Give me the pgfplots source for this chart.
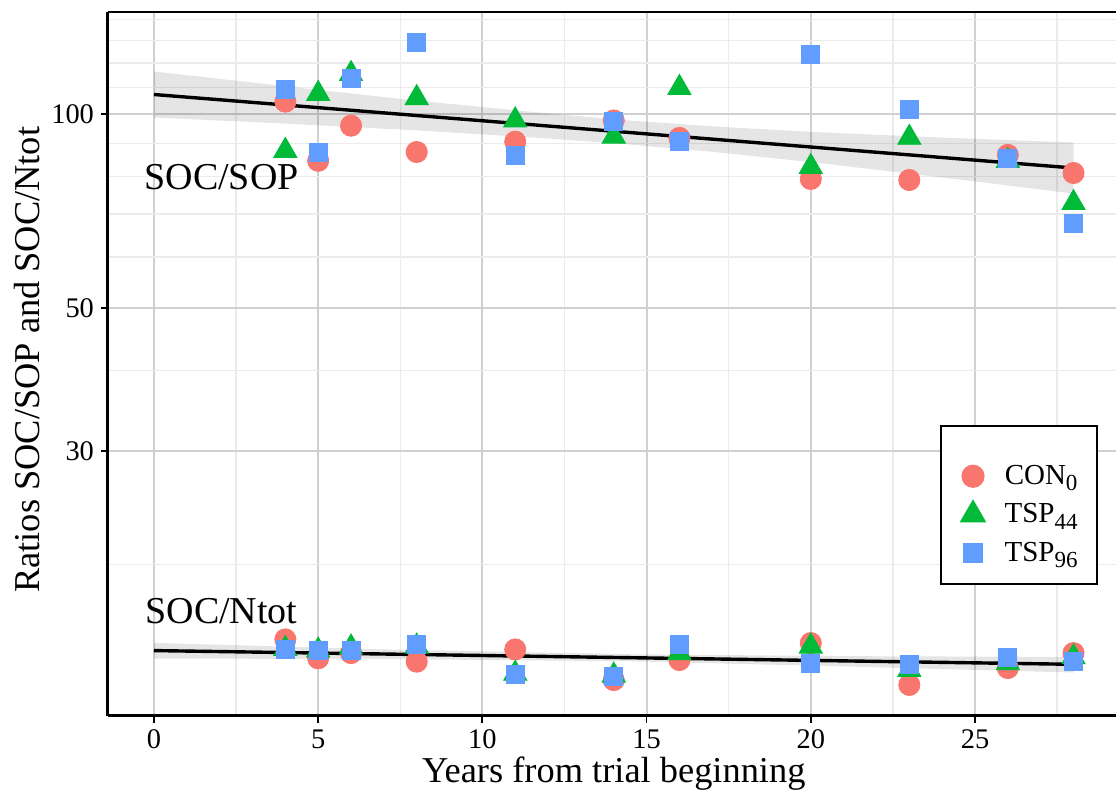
\documentclass[border=0pt]{standalone}
\usepackage{fontspec}
\setmainfont{Liberation Serif}
\usepackage{pgfplots}
\pgfplotsset{compat=1.18}
\definecolor{conc}{HTML}{F8766D}
\definecolor{tspa}{HTML}{00BA38}
\definecolor{tspb}{HTML}{619CFF}
\definecolor{majgrid}{HTML}{D0D0D0}
\definecolor{mingrid}{HTML}{EBEBEB}
\newcommand{\sub}[1]{\raisebox{-0.22em}{\fontsize{11.5}{12}\selectfont #1}}
\begin{document}
\begin{tikzpicture}
\begin{axis}[
  scale only axis, width=505.75pt, height=352pt,
  xmin=-1.4, xmax=29.4, ymode=log, ymin=11.645, ymax=143.95,
  axis x line*=bottom, axis y line*=left,
  xtick={0,5,...,25}, minor xtick={2.5,7.5,...,27.5},
  ytick={30,50,100}, yticklabels={30,50,100},
  minor ytick={20,40,60,70,80,90,110,120,130,140},
  grid=both,
  major grid style={draw=majgrid, line width=1pt},
  minor grid style={draw=mingrid, line width=0.65pt},
  axis line style={-, black, line width=1.5pt},
  tick pos=left, tick align=outside, major tick length=3.5pt, minor tick length=0pt,
  tick style={black, line width=0.9pt},
  ticklabel style={font=\fontsize{14.2}{17}\selectfont, text=black},
  /pgf/number format/assume math mode=true,
  xlabel={Years from trial beginning}, ylabel={Ratios SOC/SOP and SOC/Ntot},
  label style={font=\fontsize{18.2}{22}\selectfont},
  xlabel style={at={(axis description cs:0.5,-0.0824)}, anchor=center},
  ylabel style={at={(axis description cs:-0.0801,0.506)}, anchor=center},
  legend style={at={(rel axis cs:0.8225,0.4134)}, anchor=north west, draw=black, line width=1pt, fill=white,
    font=\fontsize{14.5}{16}\selectfont, inner xsep=7.5pt, inner ysep=8pt, row sep=4.1pt, column sep=8pt},
]
% confidence bands
\addplot[draw=none, fill=black, fill opacity=0.1, forget plot] coordinates {
 (0,116.4)(4,110.4)(8,104.9)(12,100.18)(14.5,97.67)(17,95.67)(20,93.81)(24,91.92)(28,90.32)
 (28,75.27)(24,79.74)(20,84.21)(17,87.38)(14.5,89.65)(12,91.62)(8,94.31)(4,96.63)(0,98.76)} -- cycle;
\addplot[draw=none, fill=black, fill opacity=0.1, forget plot] coordinates {
 (0,15.12)(7,14.77)(14.5,14.52)(21,14.42)(28,14.38)
 (28,13.60)(21,13.90)(14.5,14.16)(7,14.27)(0,14.30)} -- cycle;
% regression lines
\addplot[black, line width=1.7pt, forget plot] coordinates {(0,107.2)(28,82.45)};
\addplot[black, line width=1.7pt, forget plot] coordinates {(0,14.71)(28,14.006)};
% legend spacer row
\addlegendimage{empty legend}
\addlegendentry{}
% points
\addplot[only marks, mark=*, mark size=5.3pt, color=conc] coordinates {
 (4,104.5)(5,84.6)(6,95.9)(8,87.3)(11,90.6)(14,97.7)(16,91.8)(20,79.3)(23,79.0)(26,86.4)(28,81.0)
 (4,15.31)(5,14.31)(6,14.58)(8,14.14)(11,14.77)(14,13.24)(16,14.22)(20,15.11)(23,13.01)(26,13.82)(28,14.58)};
\addlegendentry{CON\sub{0}}
\addplot[only marks, mark=triangle*, mark size=6.7pt, color=tspa] coordinates {
 (4,87.7)(5,107.5)(6,115.4)(8,105.9)(11,97.8)(14,92.3)(16,109.8)(20,82.8)(23,91.9)(26,84.6)(28,72.8)
 (4,14.80)(5,14.72)(6,14.88)(8,14.93)(11,13.55)(14,13.46)(16,14.58)(20,14.93)(23,13.73)(26,14.07)(28,14.37)};
\addlegendentry{TSP\sub{44}}
\addplot[only marks, mark=square*, mark size=4.5pt, color=tspb] coordinates {
 (4,109.3)(5,87.3)(6,113.7)(8,129.3)(11,86.1)(14,97.4)(16,90.8)(20,123.5)(23,101.7)(26,85.2)(28,67.7)
 (4,14.75)(5,14.73)(6,14.72)(8,15.06)(11,13.49)(14,13.39)(16,15.06)(20,14.07)(23,14.02)(26,14.34)(28,14.17)};
\addlegendentry{TSP\sub{96}}
\node[font=\fontsize{19}{22}\selectfont, anchor=base west, inner sep=0pt] at (axis cs:-0.30,76.4) {SOC/SOP};
\node[font=\fontsize{19}{22}\selectfont, anchor=base west, inner sep=0pt] at (axis cs:-0.27,16.22) {SOC/Ntot};
\draw[black, line width=1.5pt] (rel axis cs:0,1) -- (rel axis cs:1,1);
\coordinate (c00) at (rel axis cs:0,0);
\end{axis}
\pgfresetboundingbox
\path ([xshift=-54pt,yshift=-38.5pt]c00) rectangle ([xshift=504pt,yshift=358pt]c00);
\end{tikzpicture}
\end{document}
